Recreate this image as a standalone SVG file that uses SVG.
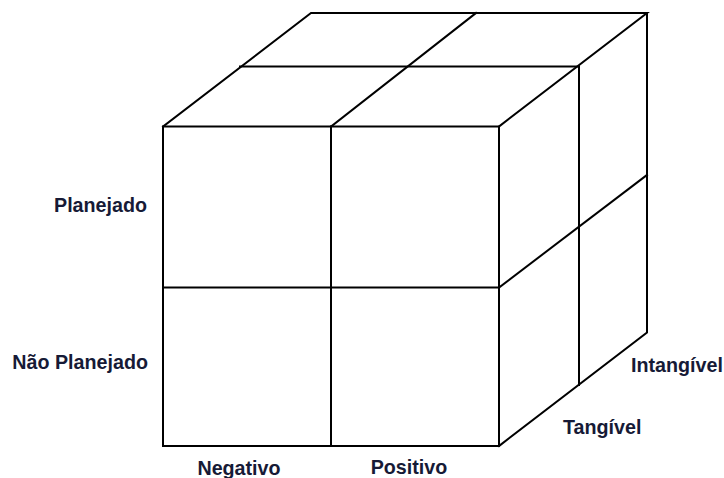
<svg xmlns="http://www.w3.org/2000/svg" width="724" height="478" viewBox="0 0 724 478">
  <style>
    .edge { stroke: #000; stroke-width: 2; fill: none; stroke-linecap: square; stroke-linejoin: miter; }
    .label { font-family: "Liberation Sans", Arial, sans-serif; font-weight: bold; font-size: 19.7px; fill: #161a36; }
  </style>
  <rect width="724" height="478" fill="#fff"/>

  <!-- Front face: 2x2 grid -->
  <g id="front-face">
    <rect class="edge" x="163" y="126.5" width="336" height="319.5"/>
    <line class="edge" x1="331" y1="126.5" x2="331" y2="446"/>
    <line class="edge" x1="163" y1="287.5" x2="499" y2="287.5"/>
  </g>

  <!-- Top face -->
  <g id="top-face">
    <polyline class="edge" points="163,126.5 311,13 647,13 499,126.5"/>
    <line class="edge" x1="240" y1="66.5" x2="579" y2="66.5"/>
    <line class="edge" x1="331" y1="126.5" x2="476" y2="13"/>
  </g>

  <!-- Right face -->
  <g id="right-face">
    <polyline class="edge" points="647,13 647,332.5 499,446"/>
    <line class="edge" x1="579" y1="66.5" x2="579" y2="385"/>
    <line class="edge" x1="499" y1="287.5" x2="647" y2="175"/>
  </g>

  <!-- Axis labels -->
  <g id="labels">
    <text class="label" x="147" y="212" text-anchor="end">Planejado</text>
    <text class="label" x="148" y="369" text-anchor="end">Não Planejado</text>
    <text class="label" x="239" y="475" text-anchor="middle">Negativo</text>
    <text class="label" x="409" y="473.5" text-anchor="middle">Positivo</text>
    <text class="label" x="563" y="434">Tangível</text>
    <text class="label" x="631" y="372">Intangível</text>
  </g>
</svg>
